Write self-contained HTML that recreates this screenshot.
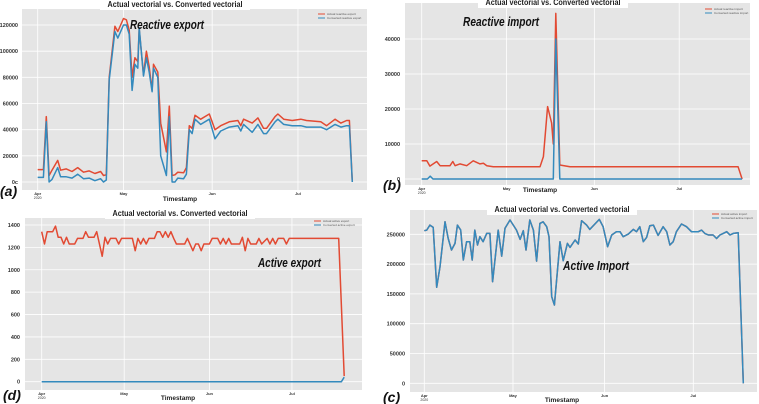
<!DOCTYPE html>
<html><head><meta charset="utf-8">
<style>
body{margin:0;background:#fff;width:759px;height:404px;overflow:hidden;font-family:"Liberation Sans",sans-serif;}
svg{display:block}
</style></head>
<body>
<svg id="fig" width="759" height="404"></svg>
<script>
// Panel (a) Reactive export
const aDays=[0,2,3,4,5,7,8,10,12,14,16,18,20,22,23,24,25,27,28,30,31,32,33,34,35,35.5,37,38,39,40,40.5,42,43,45,46,47,48,49,51,52,53,54,55,57,60,62,64,67,70,71,72,75,77,79,80,83,84,86,89,92,94,99,101,104,106,108,109,110];
const aActual=[9500,9500,50000,5000,9000,16500,9000,10000,8000,11000,7500,8500,6500,8000,5000,5500,80000,119000,115000,125000,124000,116000,80000,95000,92000,117000,82000,100000,88000,70000,90000,84000,45000,23000,58000,5000,5500,7500,7000,11000,43000,41000,51000,48000,52000,40000,43000,46000,47000,43000,48000,45000,49000,41000,41000,50000,52000,48000,47000,48000,47000,46000,43000,48000,45000,47000,47000,0];
const aConverted=[3500,3500,46000,0,2000,11000,4000,4000,3000,6000,2500,3000,1000,2500,0,1500,78000,115000,110000,120000,120000,113000,70000,90000,87000,118000,81000,95000,84000,69000,87000,80000,20000,5000,50000,0,0,3000,2500,6000,40000,37000,48000,44000,48000,33000,39000,42000,43000,39000,44000,38000,44000,37000,37000,46000,48000,44000,43000,43000,42000,42000,40000,44000,42000,43000,43000,0];
const aTicks=[0,20000,40000,60000,80000,100000,120000];
const aTickLabels=["0c","20000","40000","60000","80000","100000","120000"];
// Panel (b) Reactive import
const bDays=[0,1.8,2.9,5.3,6.5,10,11,11.8,13.5,15.9,18.2,20.6,21.8,23,25.3,41.8,43,44.5,45.9,46.5,47.4,48.8,52.4,111.8,113.2];
const bActual=[5200,5200,3700,5000,3800,3800,5000,3800,4300,3800,5200,4300,4500,3800,3500,3500,6400,20700,16000,10000,47300,4000,3500,3500,0];
const bConvDays=[0,2,3,4,46.5,47.4,48.8,113.2];
const bConverted=[0,0,800,0,0,40000,0,0];
const bTicks=[0,10000,20000,30000,40000];
// Panel (d) Active export
const dDays=[0,1,2,4,5,6,7,8,9,10,12,13,15,16,17,19,20,22,23,24,25,27,28,29,33,34,35,36,37,38,39,41,42,43,44,45,46,47,48,49,52,53,55,56,57,58,59,61,62,64,65,66,67,68,69,72,73,74,75,76,78,79,80,82,83,84,85,86,88,89,90,108,110];
const dActual=[1340,1230,1340,1340,1390,1290,1290,1230,1290,1230,1230,1280,1280,1340,1290,1290,1340,1120,1290,1230,1280,1280,1230,1280,1280,1170,1280,1230,1280,1230,1280,1280,1340,1340,1290,1340,1290,1340,1280,1230,1230,1280,1170,1230,1230,1170,1230,1230,1280,1280,1230,1280,1230,1280,1230,1230,1290,1170,1280,1230,1230,1280,1230,1280,1230,1280,1230,1280,1280,1230,1280,1280,50];
const dConvDays=[0,109,110];
const dConverted=[0,0,40];
const dTicks=[0,200,400,600,800,1000,1200,1400];
// Panel (c) Active import
const cDays=[0,0.8,1.9,3,4.2,5.3,7,8.1,9.2,10.4,11.2,12.3,13.2,14.3,15.4,16.2,17.1,18,18.8,19.9,21.1,22.2,23.1,25,26.2,27.3,29,30.1,31.2,32.4,33.5,34.4,35.7,36.9,38,39.1,40.2,41.4,42.2,43.1,44,45.9,47,48.4,49.3,51,52.1,53.2,54.9,56,57.7,59.2,60.5,62,63.4,65,66.2,67.3,69,70.7,71.8,72.9,74.1,75.2,76.3,77.5,79.1,80.8,82,83.1,84.2,85.3,87,88.7,90.4,92.7,93.8,94.9,96.1,97.7,98.9,100,101.1,102.3,103.4,104.5,106.2,107.9];
const cValues=[256000,257000,265500,261600,161000,195600,271000,243000,223600,234800,265500,257000,206800,237600,237600,206800,257000,232000,246000,237600,251500,251500,170500,257000,213500,260000,274000,265500,257000,241500,256000,223600,274000,257000,205000,268300,271000,262700,246000,145300,131300,237600,205700,234800,228000,240400,233700,272800,265500,258300,267200,275000,262700,229200,248800,254300,254300,246000,250400,258300,254300,262700,237600,244800,264400,265500,248200,262700,254300,232000,237600,254300,267200,262700,254300,254300,257000,251500,248800,248800,243000,248800,251500,254300,248800,251500,252600,0];
const cTicks=[0,50000,100000,150000,200000,250000];
const monthDays=[0,30,61,91];
const monthLabels=["Apr","May","Jun","Jul"];

const NS="http://www.w3.org/2000/svg";
const svg=document.getElementById('fig');
function mk(tag,attrs,parent){const e=document.createElementNS(NS,tag);for(const k in attrs)e.setAttribute(k,attrs[k]);(parent||svg).appendChild(e);return e;}

function panel(p){
  const g=mk('g',{});
  
  
  const bg=mk('rect',{x:p.bx,y:p.by,width:p.bw,height:p.bh,fill:'#e5e5e5'},g);
  
  
  const sx=d=>p.x0+(d)*p.pxDay;
  const sy=v=>p.y0-(v/p.vTop)*(p.y0-p.yTop);
  p.ticks.forEach((t,i)=>{
    const y=sy(t);
    const gl=mk('line',{x1:p.bx,x2:p.bx+p.bw,y1:y,y2:y,stroke:'#fff','stroke-width':0.8},g);
    
    
    const tl=mk('text',{x:p.lx,y:y+2,'text-anchor':'end','font-size':5.5,'font-weight':'bold',fill:'#333'},g);
    tl.textContent=p.tickLabels?p.tickLabels[i]:String(t);
    
    
  });
  monthDays.forEach((d,i)=>{
    const x=sx(d);
    const gl=mk('line',{x1:x,x2:x,y1:p.by,y2:p.by+p.bh,stroke:'#fff','stroke-width':0.8},g);
    
    
    const tl=mk('text',{x:x,y:p.by+p.bh+5,'text-anchor':'middle','font-size':4,'font-weight':'bold',fill:'#333'},g);
    tl.textContent=monthLabels[i];
    
    
    if(i===0){const yl=mk('text',{x:x,y:p.by+p.bh+9,'text-anchor':'middle','font-size':3.5,fill:'#333'},g);yl.textContent='2020';
      
      }
  });
  p.series.forEach(s=>{
    const pts=s.days.map((d,i)=>sx(d).toFixed(1)+','+sy(s.vals[i]).toFixed(1)).join(' ');
    const pl=mk('polyline',{points:pts,fill:'none',stroke:s.color,'stroke-width':1.5,'stroke-linejoin':'round'},g);
    
    
  });
  const tw=150;
  const tb=mk('rect',{x:p.tx-tw/2,y:p.ty-8,width:tw,height:11,fill:'#fff'},g);
  
  
  const tt=mk('text',{x:p.tx,y:p.ty,'text-anchor':'middle','font-size':8,'font-weight':'bold',fill:'#222',textLength:135,lengthAdjust:'spacingAndGlyphs'},g);
  tt.textContent='Actual vectorial vs.  Converted vectorial';
  
  
  const lg=mk('g',{},g);
  
  
  p.legend.forEach((l,i)=>{
    const y=p.legY+i*4;
    mk('line',{x1:p.legX,x2:p.legX+7,y1:y,y2:y,stroke:i?'#348abd':'#e24a33','stroke-width':1},lg);
    const t=mk('text',{x:p.legX+9,y:y+1.2,'font-size':3,fill:'#555'},lg);
    t.textContent=l;
    
    
  });
  const an=mk('text',{x:p.ax,y:p.ay,'font-size':13,'font-weight':'bold','font-style':'italic',fill:'#111',textLength:p.aw,lengthAdjust:'spacingAndGlyphs'},g);
  an.textContent=p.annot;
  
  
  const xl=mk('text',{x:p.xlx,y:p.xly,'text-anchor':'middle','font-size':6.5,'font-weight':'bold',fill:'#222'},g);
  xl.textContent='Timestamp';
  
  
  const pl=mk('text',{x:p.px,y:p.py,'font-size':14,'font-weight':'bold','font-style':'italic',fill:'#111'},g);
  pl.textContent=p.plabel;
  
  
}

panel({name:'panel-a-reactive-export',bx:22,by:9,bw:345,bh:181,x0:37.7,pxDay:2.86,y0:182,yTop:25,vTop:120000,lx:18,
 ticks:aTicks,tickLabels:aTickLabels,series:[{name:'actual-reactive-export-line',days:aDays,vals:aActual,color:'#e24a33'},{name:'converted-reactive-export-line',days:aDays,vals:aConverted,color:'#348abd'}],
 tx:175,ty:7,legX:318,legY:14,legend:['Actual reactive export','Converted reactive export'],annot:'Reactive export',aw:74,ax:130,ay:29,xlx:180,xly:201,plabel:'(a)',px:0,py:196});
panel({name:'panel-b-reactive-import',bx:405,by:3,bw:345,bh:182,x0:421.7,pxDay:2.83,y0:179,yTop:39,vTop:40000,lx:400,
 ticks:bTicks,series:[{name:'actual-reactive-import-line',days:bDays,vals:bActual,color:'#e24a33'},{name:'converted-reactive-import-line',days:bConvDays,vals:bConverted,color:'#348abd'}],
 tx:553,ty:5,legX:705,legY:9,legend:['Actual reactive import','Converted reactive import'],annot:'Reactive import',aw:76,ax:463,ay:26,xlx:540,xly:192,plabel:'(b)',px:383,py:190});
panel({name:'panel-d-active-export',bx:25,by:218,bw:337,bh:172,x0:41.7,pxDay:2.75,y0:381.7,yTop:225,vTop:1400,lx:20,
 ticks:dTicks,series:[{name:'actual-active-export-line',days:dDays,vals:dActual,color:'#e24a33'},{name:'converted-active-export-line',days:dConvDays,vals:dConverted,color:'#348abd'}],
 tx:180,ty:216,legX:314,legY:221,legend:['Actual active export','Converted active export'],annot:'Active export',aw:63,ax:258,ay:267,xlx:178,xly:400,plabel:'(d)',px:3,py:400});
panel({name:'panel-c-active-import',bx:410,by:210,bw:347,bh:182,x0:424.3,pxDay:2.956,y0:383.3,yTop:234.3,vTop:250000,lx:405,
 ticks:cTicks,series:[{name:'actual-active-import-line',days:cDays,vals:cValues,color:'#e24a33'},{name:'converted-active-import-line',days:cDays,vals:cValues,color:'#348abd'}],
 tx:562,ty:212,legX:712,legY:214,legend:['Actual active import','Converted active import'],annot:'Active Import',aw:66,ax:563,ay:270,xlx:562,xly:402,plabel:'(c)',px:383,py:402});
</script>
</body></html>
